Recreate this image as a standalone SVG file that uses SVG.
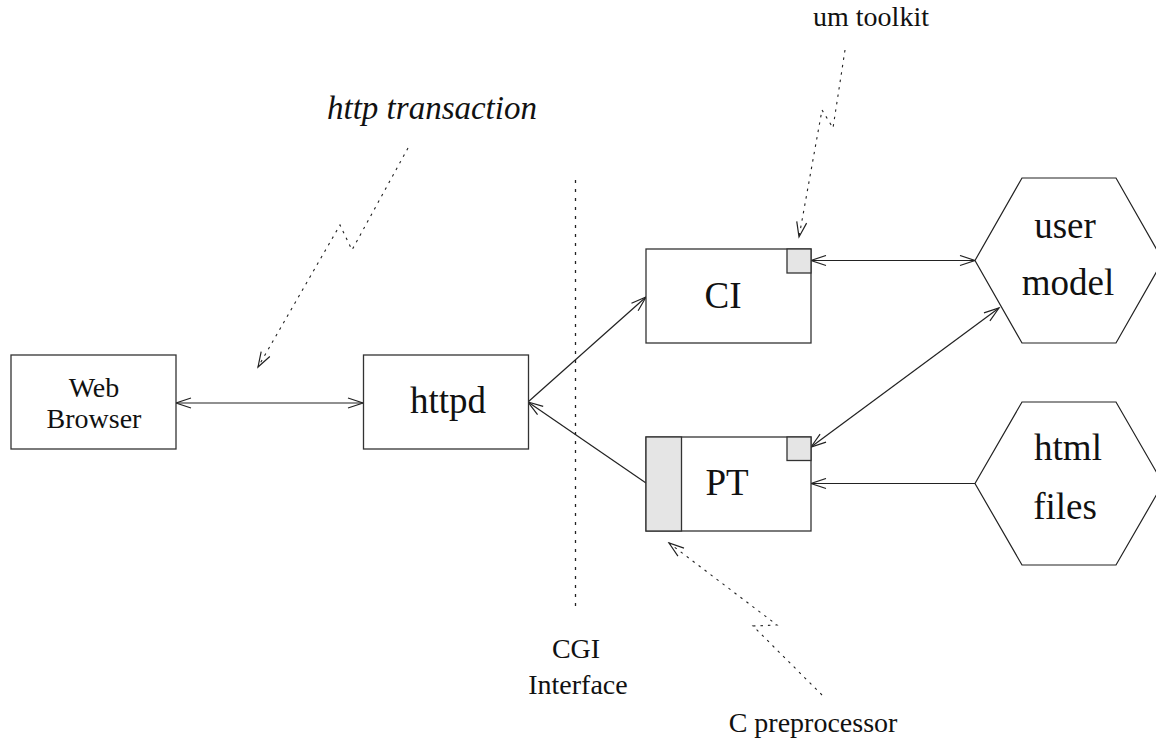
<svg xmlns="http://www.w3.org/2000/svg" width="1156" height="738" viewBox="0 0 1156 738">
<style>
.box{fill:#fff;stroke:#333;stroke-width:1.3}
.tab{fill:#e5e5e5;stroke:#333;stroke-width:1.3}
.hex{fill:#fff;stroke:#222;stroke-width:1.2}
.con{fill:none;stroke:#222;stroke-width:1.2}
.lead{fill:none;stroke:#222;stroke-width:1.1;stroke-dasharray:2.5 5}
.cgi{fill:none;stroke:#222;stroke-width:1.3;stroke-dasharray:3 6}
.t{fill:#111;text-anchor:middle}
.s{font-size:28px}
.b{font-size:37px}
.i{font-size:33px;font-style:italic}
</style>
<defs>
<marker id="ah" markerUnits="userSpaceOnUse" markerWidth="18" markerHeight="12" refX="16" refY="6" orient="auto-start-reverse" viewBox="0 0 18 12">
<path d="M1,1 L16,6 L1,11" fill="none" stroke="#222" stroke-width="1.2"/>
</marker>
</defs>
<g id="connectors">
<line class="con" x1="176" y1="403" x2="363" y2="403" marker-start="url(#ah)" marker-end="url(#ah)"/>
<line class="con" x1="528" y1="402" x2="646" y2="297" marker-end="url(#ah)"/>
<line class="con" x1="646" y1="483" x2="528" y2="402" marker-end="url(#ah)"/>
<line class="con" x1="811" y1="260.5" x2="975" y2="260.5" marker-start="url(#ah)" marker-end="url(#ah)"/>
<line class="con" x1="811" y1="447" x2="999" y2="308" marker-start="url(#ah)" marker-end="url(#ah)"/>
<line class="con" x1="975" y1="483.5" x2="811" y2="483.5" marker-end="url(#ah)"/>
<line class="cgi" x1="575.5" y1="180" x2="575.5" y2="607"/>
<polyline class="lead" points="408,148 352,250 340,225 258,367" marker-end="url(#ah)"/>
<polyline class="lead" points="845,50 833,128 822,110 799,237" marker-end="url(#ah)"/>
<polyline class="lead" points="822,695 753,626 777,625 669,543" marker-end="url(#ah)"/>
</g>
<g font-family="'Liberation Serif', 'DejaVu Serif', 'Times New Roman', serif">
<g id="web-browser">
<rect class="box" x="11" y="355" width="165" height="94"/>
<text class="t s" x="94" y="397">Web</text>
<text class="t s" x="94" y="428">Browser</text>
</g>
<g id="httpd">
<rect class="box" x="363.5" y="355" width="165" height="94"/>
<text class="t b" x="448" y="413">httpd</text>
</g>
<g id="ci">
<rect class="box" x="646" y="249" width="165" height="94"/>
<rect class="tab" x="787" y="249" width="24" height="24"/>
<text class="t b" x="723" y="308">CI</text>
</g>
<g id="pt">
<rect class="box" x="646" y="437" width="165" height="94"/>
<rect class="tab" x="646" y="437" width="35.5" height="94"/>
<rect class="tab" x="787" y="437" width="24" height="23.5"/>
<text class="t b" x="727" y="495">PT</text>
</g>
<g id="user-model">
<polygon class="hex" points="975,260.5 1022,178 1116,178 1163,260.5 1116,343 1022,343"/>
<text class="t b" x="1065" y="238">user</text>
<text class="t b" x="1068" y="295">model</text>
</g>
<g id="html-files">
<polygon class="hex" points="975,483.5 1022,402 1116,402 1163,483.5 1116,565 1022,565"/>
<text class="t b" x="1068" y="460">html</text>
<text class="t b" x="1065" y="519">files</text>
</g>
<g id="labels">
<text class="t i" x="432" y="119">http transaction</text>
<text class="t s" x="871" y="26">um toolkit</text>
<text class="t s" x="576" y="658">CGI</text>
<text class="t s" x="578" y="694">Interface</text>
<text class="t s" x="813" y="732">C preprocessor</text>
</g>
</g>
</svg>
